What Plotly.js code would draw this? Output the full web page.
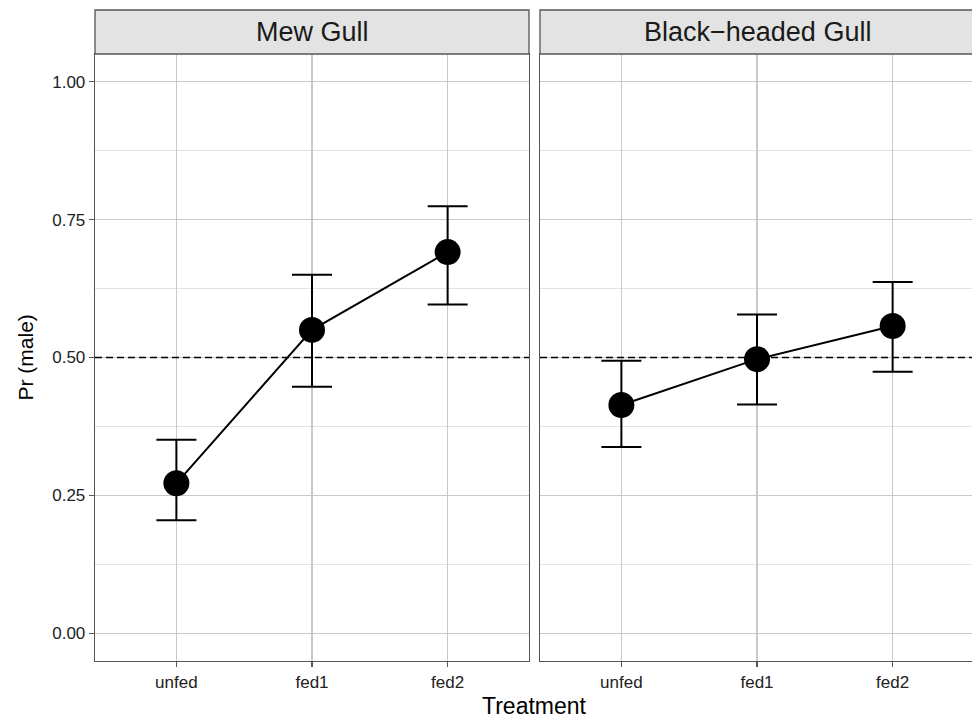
<!DOCTYPE html>
<html>
<head>
<meta charset="utf-8">
<script src="https://cdn.plot.ly/plotly-3.0.1.min.js"></script>
<style>html,body{margin:0;padding:0;background:#fff;overflow:hidden;}#plot{width:974px;height:718px;}</style>
</head>
<body>
<div id="plot"></div>
<script>
// ---- data ----
const categories = ['unfed', 'fed1', 'fed2'];
const panels = ['Mew Gull', 'Black\u2212headed Gull'];
const mewMean  = [0.272, 0.550, 0.691];
const mewLower = [0.205, 0.447, 0.596];
const mewUpper = [0.351, 0.650, 0.774];
const bhMean   = [0.414, 0.497, 0.557];
const bhLower  = [0.338, 0.415, 0.474];
const bhUpper  = [0.494, 0.578, 0.637];
const refLine = 0.5;
const yTicks = [0, 0.25, 0.5, 0.75, 1];
const yTickText = ['0.00', '0.25', '0.50', '0.75', '1.00'];

const FONT = 'Liberation Sans, Arial, Helvetica, sans-serif';

function makeTrace(mean, lower, upper, xa, ya) {
  return {
    type: 'scatter', mode: 'lines+markers',
    x: categories, y: mean, xaxis: xa, yaxis: ya,
    line: {color: '#000', width: 2},
    marker: {color: '#000', size: 26},
    error_y: {
      type: 'data', symmetric: false,
      array: upper.map((u, i) => u - mean[i]),
      arrayminus: lower.map((l, i) => mean[i] - l),
      color: '#000', thickness: 2, width: 20
    },
    hoverinfo: 'x+y', showlegend: false
  };
}

const traces = [
  makeTrace(mewMean, mewLower, mewUpper, 'x', 'y'),
  makeTrace(bhMean, bhLower, bhUpper, 'x2', 'y2')
];

const W = 974;
const totalW = W - 95;
const plotH = 718 - 54 - 57;
const stripTop = 1 + 44 / plotH;

const xCommon = {
  type: 'category', categoryorder: 'array', categoryarray: categories,
  range: [-0.6, 2.6], showgrid: true, gridcolor: '#c9c9c9', gridwidth: 1.5,
  zeroline: false, showline: true, mirror: true, linecolor: '#555555', linewidth: 1.3,
  ticks: 'outside', ticklen: 5, tickwidth: 1.3, tickcolor: '#555555',
  tickfont: {family: FONT, size: 17, color: '#222222'}, fixedrange: true
};
const yCommon = {
  range: [-0.05, 1.05], tickvals: yTicks, ticktext: yTickText,
  showgrid: true, gridcolor: '#c9c9c9', gridwidth: 1.5,
  minor: {dtick: 0.125, tick0: 0, showgrid: true, gridcolor: '#e3e3e3', gridwidth: 1, ticks: ''},
  zeroline: false, showline: true, mirror: true, linecolor: '#555555', linewidth: 1.3,
  ticks: 'outside', ticklen: 5, tickwidth: 1.3, tickcolor: '#555555',
  tickfont: {family: FONT, size: 17, color: '#222222'}, fixedrange: true
};

const shapes = [];
const annotations = [];
['x', 'x2'].forEach((xa, i) => {
  const ya = i === 0 ? 'y' : 'y2';
  shapes.push({
    type: 'line', layer: 'above',
    xref: xa + ' domain', x0: 0, x1: 1,
    yref: ya, y0: refLine, y1: refLine,
    line: {color: '#000', width: 1.5, dash: '7px,4px'}
  });
  shapes.push({
    type: 'rect', layer: 'above',
    xref: xa + ' domain', x0: 0, x1: 1,
    yref: 'paper', y0: 1, y1: stripTop,
    fillcolor: '#e3e3e3', line: {color: '#555555', width: 1.3}
  });
  annotations.push({
    xref: xa + ' domain', x: 0.5, yref: 'paper', y: (1 + stripTop) / 2,
    xanchor: 'center', yanchor: 'middle', showarrow: false,
    text: panels[i], font: {family: FONT, size: 27, color: '#1a1a1a'}
  });
});
annotations.push({
  xref: 'paper', x: (534 - 95) / totalW, yref: 'paper', y: -(706 - 661) / plotH,
  xanchor: 'center', yanchor: 'middle', showarrow: false,
  text: 'Treatment', font: {family: FONT, size: 23, color: '#000'}
});
annotations.push({
  xref: 'paper', x: -(95 - 25) / totalW, yref: 'paper', y: 0.5,
  xanchor: 'center', yanchor: 'middle', showarrow: false, textangle: -90,
  text: 'Pr (male)', font: {family: FONT, size: 21, color: '#000'}
});

const layout = {
  width: W, height: 718,
  margin: {l: 95, r: 0, t: 54, b: 57},
  paper_bgcolor: '#fff', plot_bgcolor: '#fff',
  showlegend: false,
  xaxis: Object.assign({}, xCommon, {domain: [0, 434 / totalW], anchor: 'y'}),
  xaxis2: Object.assign({}, xCommon, {domain: [445 / totalW, 1], anchor: 'y2'}),
  yaxis: Object.assign({}, yCommon, {domain: [0, 1], anchor: 'x'}),
  yaxis2: Object.assign({}, yCommon, {domain: [0, 1], anchor: 'x2', showticklabels: false, ticks: ''}),
  shapes: shapes, annotations: annotations
};

Plotly.newPlot('plot', traces, layout, {displayModeBar: false, staticPlot: true});
</script>
</body>
</html>
